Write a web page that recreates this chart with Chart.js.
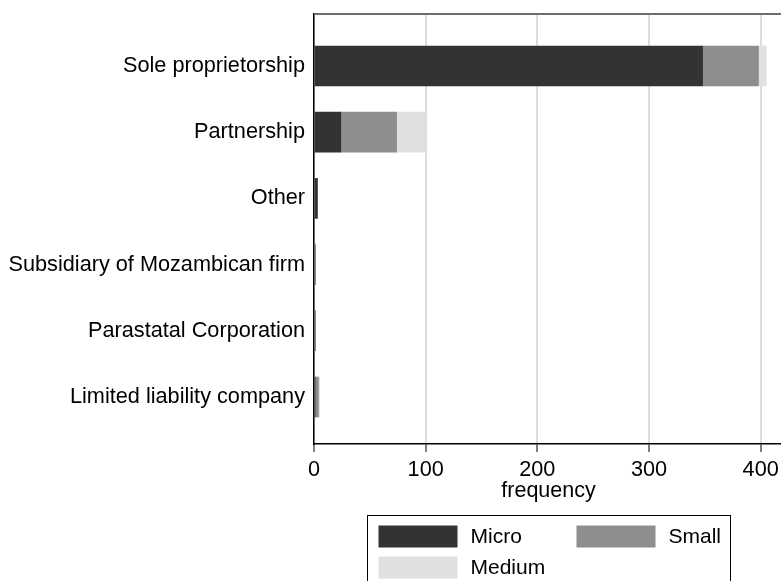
<!DOCTYPE html>
<html>
<head>
<meta charset="utf-8">
<script src="https://cdn.jsdelivr.net/npm/chart.js@4/dist/chart.umd.min.js"></script>
<style>
  html, body { margin: 0; padding: 0; background: #fff; overflow: hidden; }
  #wrap { width: 800px; height: 581px; }
</style>
</head>
<body>
<div id="wrap"><canvas id="firmChart" width="800" height="581"></canvas></div>
<script>
// categories (top to bottom)
const categories = [
    'Sole proprietorship',
    'Partnership',
    'Other',
    'Subsidiary of Mozambican firm',
    'Parastatal Corporation',
    'Limited liability company'
];

// frequency by firm size
const micro  = [348, 24, 3, 1, 1, 1];
const small  = [50, 50, 0, 0, 0, 3];
const medium = [7, 26, 0, 0, 0, 1];

const xTicks = [0, 100, 200, 300, 400];
const seriesNames = ['Micro', 'Small', 'Medium'];
const seriesColors = ['#333333', '#8e8e8e', '#e0e0e0'];

const FONT = "'Liberation Sans', Arial, sans-serif";

function toPoints(values) {
    return values.map((v, i) => ({ x: v, y: i }));
}

// Stata style legend box under the plot
const boxLegend = {
    id: 'boxLegend',
    afterDraw(chart) {
        const ctx = chart.ctx;
        const left = 367.5, top = 515.5;
        ctx.save();
        ctx.strokeStyle = '#000';
        ctx.lineWidth = 1;
        ctx.strokeRect(left, top, 363, 90);

        ctx.font = '21px ' + FONT;
        ctx.textBaseline = 'middle';
        ctx.textAlign = 'left';
        chart.data.datasets.forEach((ds, i) => {
            const col = i % 2;
            const row = Math.floor(i / 2);
            const sx = left + 11 + col * 198;
            const sy = top + 10 + row * 31;
            ctx.fillStyle = ds.backgroundColor;
            ctx.fillRect(sx, sy, 79, 22);
            ctx.fillStyle = '#000';
            ctx.fillText(ds.label, sx + 92, sy + 12);
        });
        ctx.restore();
    }
};

// top border of the plot region
const topBorder = {
    id: 'topBorder',
    afterDatasetsDraw(chart) {
        const { ctx, chartArea } = chart;
        ctx.save();
        ctx.strokeStyle = '#6e6e6e';
        ctx.lineWidth = 2;
        ctx.beginPath();
        ctx.moveTo(chartArea.left, chartArea.top);
        ctx.lineTo(chartArea.right + 20, chartArea.top);
        ctx.stroke();
        ctx.restore();
    }
};

// drop the label padding chart.js adds around the scales
function noScalePadding(scale) {
    scale.paddingTop = 0;
    scale.paddingBottom = 0;
    scale.paddingLeft = 0;
    scale.paddingRight = 0;
}

const ctx = document.getElementById('firmChart').getContext('2d');

new Chart(ctx, {
    type: 'bar',
    data: {
        datasets: [
            { label: seriesNames[0], data: toPoints(micro), backgroundColor: seriesColors[0] },
            { label: seriesNames[1], data: toPoints(small), backgroundColor: seriesColors[1] },
            { label: seriesNames[2], data: toPoints(medium), backgroundColor: seriesColors[2] }
        ]
    },
    options: {
        responsive: false,
        animation: false,
        indexAxis: 'y',
        barThickness: 40,
        borderWidth: 0,
        layout: {
            padding: { left: 0, top: 14, right: 17, bottom: 77 }
        },
        plugins: {
            legend: { display: false },
            tooltip: { enabled: false },
            title: { display: false }
        },
        scales: {
            x: {
                type: 'linear',
                stacked: true,
                min: 0,
                max: 420,
                afterBuildTicks: (scale) => {
                    scale.ticks = xTicks.map(v => ({ value: v }));
                },
                afterFit: (scale) => {
                    scale.height = 60;
                    noScalePadding(scale);
                },
                grid: {
                    color: '#dcdcdc',
                    lineWidth: 2,
                    drawTicks: true,
                    tickLength: 8,
                    tickColor: '#555',
                    tickWidth: 1.5
                },
                border: { display: true, color: '#000', width: 1.5 },
                ticks: {
                    color: '#000',
                    padding: 5,
                    maxRotation: 0,
                    font: { family: FONT, size: 21.7 }
                },
                title: {
                    display: true,
                    text: 'frequency',
                    color: '#000',
                    padding: { top: 0, bottom: 0 },
                    font: { family: FONT, size: 21.5 }
                }
            },
            y: {
                type: 'linear',
                stacked: true,
                reverse: true,
                offset: false,
                min: -0.785,
                max: 5.71,
                afterBuildTicks: (scale) => {
                    scale.ticks = categories.map((c, i) => ({ value: i }));
                },
                afterFit: (scale) => {
                    scale.width = 314;
                    noScalePadding(scale);
                },
                grid: { offset: false, drawOnChartArea: false, drawTicks: false, color: 'transparent' },
                border: { display: true, color: '#000', width: 1.5 },
                ticks: {
                    color: '#000',
                    padding: 9,
                    font: { family: FONT, size: 21.7 },
                    callback: (value) => categories[value] ?? ''
                }
            }
        }
    },
    plugins: [topBorder, boxLegend]
});
</script>
</body>
</html>
